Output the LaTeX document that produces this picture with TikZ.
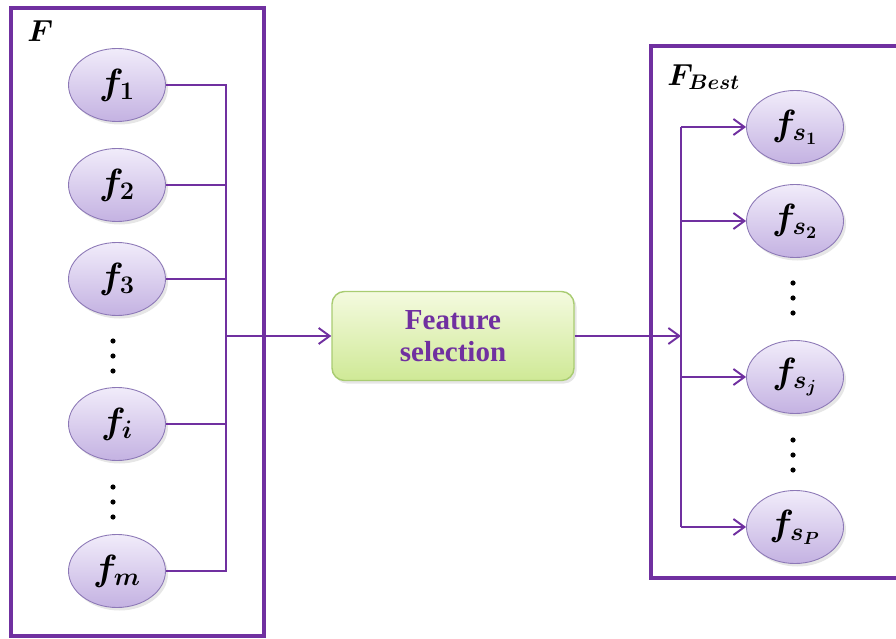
\documentclass[tikz,border=0pt]{standalone}
\usepackage{fontspec}
\setmainfont{Liberation Serif}
\usetikzlibrary{shapes.geometric,shadows,arrows.meta}
\definecolor{lilac}{HTML}{7030A0}
\definecolor{ovaltop}{HTML}{F1ECFA}
\definecolor{ovalbottom}{HTML}{C4B2E2}
\definecolor{ovalrim}{HTML}{8C78B6}
\definecolor{seltop}{HTML}{F4FADF}
\definecolor{selbottom}{HTML}{CFE996}
\definecolor{selrim}{HTML}{A9CC72}
\def\dotcol(#1,#2){\fill (#1,#2-15) circle (2.6); \fill (#1,#2) circle (2.6); \fill (#1,#2+15) circle (2.6);}
\tikzset{
  frame/.style={draw=lilac, line width=1.8pt},
  oval/.style={ellipse, draw=ovalrim, line width=0.5pt, top color=ovaltop, bottom color=ovalbottom,
    minimum width=19.4mm, minimum height=14.6mm, inner sep=0pt,
    drop shadow={opacity=0.2, shadow xshift=0.5mm, shadow yshift=-0.6mm},
    font=\fontsize{19.5}{22}\selectfont\boldmath},
  selbox/.style={rectangle, rounded corners=2.5mm, draw=selrim, line width=0.8pt, top color=seltop, bottom color=selbottom,
    minimum width=48.4mm, minimum height=17.8mm, align=center, text=lilac,
    drop shadow={opacity=0.2, shadow xshift=0.5mm, shadow yshift=-0.6mm},
    font=\fontsize{16.5}{18.5}\selectfont\bfseries},
  link/.style={draw=lilac, line width=1.1pt},
  arrow/.style={link, -{Straight Barb[length=2.2mm, width=3.2mm, line width=1.1pt]}},
  setname/.style={anchor=west, inner sep=0pt, font=\fontsize{16.5}{20}\selectfont\boldmath}
}
\begin{document}
\begin{tikzpicture}[x=0.2mm, y=-0.2mm]
		%%%%% START %%%%%
		\useasboundingbox (0,0) rectangle (896,639);
		
		% left set
		\draw[frame] (11,8) rectangle (264,636);
		\node[setname] (F) at (27,31) {$F$};
		\node[oval] (f1) at (117,85) {$f_1$};
		\node[oval] (f2) at (117,185) {$f_2$};
		\node[oval] (f3) at (117,279) {$f_3$};
		\node[oval] (fi) at (117,424) {$f_i$};
		\node[oval] (fm) at (117,571) {$f_m$};
		\dotcol(113,356)
		\dotcol(113,502)
		
		% selection
		\node[selbox] (sel) at (453,336) {Feature\\selection};
		\coordinate (lbus) at (226,336);
		\coordinate (rbus) at (681,336);
		
		\draw[link] (f1.east) -- (f1.east -| lbus) -- (fm.east -| lbus) -- (fm.east);
		\draw[link] (f2.east) -- (f2.east -| lbus);
		\draw[link] (f3.east) -- (f3.east -| lbus);
		\draw[link] (fi.east) -- (fi.east -| lbus);
		\draw[arrow] (lbus) -- (sel.west);
		\draw[arrow] (sel.east) -- (rbus);
		
		% right set
		\draw[frame] (900,46) -- (651,46) -- (651,578) -- (900,578);
		\node[setname] (Fbest) at (667,77) {$F_{Best}$};
		\node[oval] (s1) at (795,127) {$f_{s_1}$};
		\node[oval] (s2) at (795,221) {$f_{s_2}$};
		\node[oval] (sj) at (795,377) {$f_{s_j}$};
		\node[oval] (sP) at (795,527) {$f_{s_P}$};
		\dotcol(793,298)
		\dotcol(793,455)
		
		\draw[link] (s1.west -| rbus) -- (sP.west -| rbus);
		\draw[arrow] (s1.west -| rbus) -- (s1.west);
		\draw[arrow] (s2.west -| rbus) -- (s2.west);
		\draw[arrow] (sj.west -| rbus) -- (sj.west);
		\draw[arrow] (sP.west -| rbus) -- (sP.west);
		%%%%% END %%%%%
\end{tikzpicture}
\end{document}
